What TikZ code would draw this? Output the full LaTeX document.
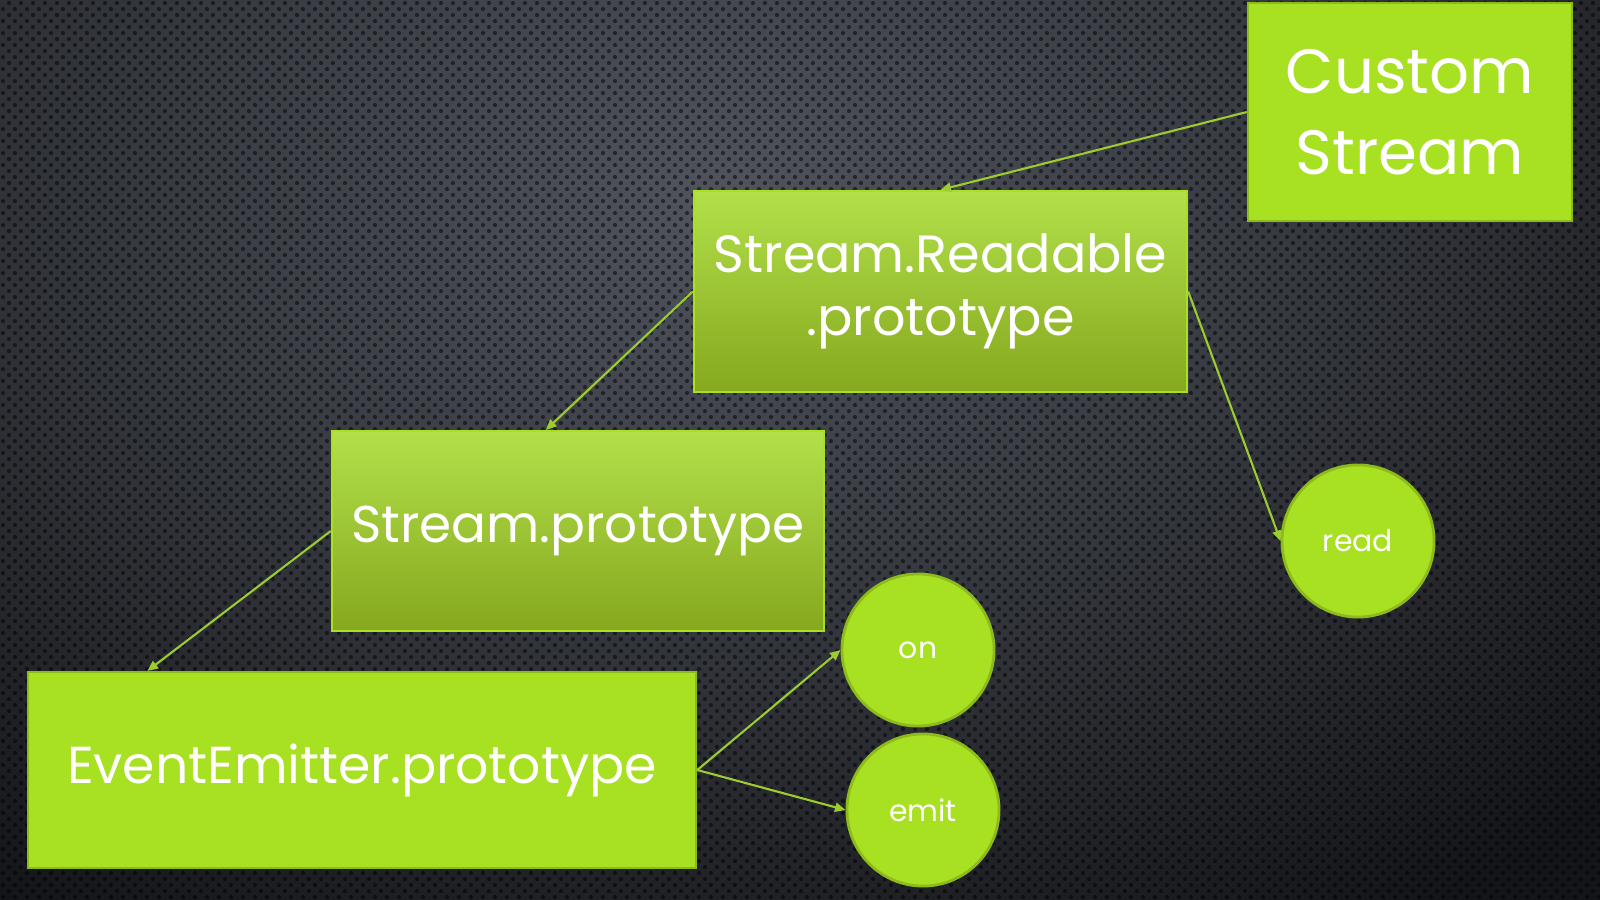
\documentclass[tikz,border=0pt]{standalone}
\usepackage{fontspec}
\setmainfont{Poppins}
\usetikzlibrary{arrows.meta,calc,patterns.meta}

% perforated-metal texture: staggered dark dots
\pgfdeclarepattern{
  name=perforation, type=uncolored,
  bottom left={\pgfpoint{0pt}{0pt}},
  top right={\pgfpoint{3.4pt}{3.4pt}},
  tile size={\pgfpoint{3.4pt}{3.4pt}},
  code={
    \pgfpathcircle{\pgfpoint{0.85pt}{0.85pt}}{0.6pt}
    \pgfpathcircle{\pgfpoint{2.55pt}{2.55pt}}{0.6pt}
    \pgfusepath{fill}
  }
}

\definecolor{bgdark}{HTML}{141518}
\definecolor{bgmid}{HTML}{383B42}
\definecolor{bglight}{HTML}{50545D}
\definecolor{lime}{HTML}{A8E022}
\definecolor{limeedge}{HTML}{8DBB1C}
\definecolor{limetop}{HTML}{B2E04A}
\definecolor{limebot}{HTML}{86A81E}
\definecolor{wire}{HTML}{9DCC2E}

% backdrop glow: lighter near the upper middle, fading to near black
% (the path's bounding box spans -25bp..25bp of the shading)
\pgfdeclareradialshading{backdrop}{\pgfpoint{0bp}{0bp}}{%
  color(0bp)=(bglight); color(11bp)=(bgmid); color(25bp)=(bgdark);
  color(50bp)=(bgdark)}

\tikzset{
  solidbox/.style={rectangle, fill=lime, draw=limeedge, line width=0.6pt,
    text=white, align=center, inner sep=0pt},
  shadedbox/.style={rectangle, top color=limetop, bottom color=limebot,
    draw=lime, line width=0.6pt, text=white, align=center, inner sep=0pt},
  method/.style={circle, fill=lime, draw=limeedge, line width=0.8pt,
    minimum size=1.52cm, inner sep=0pt, text=white,
    font=\fontsize{8.5}{10}\selectfont},
  link/.style={draw=wire, line width=0.6pt,
    -{Triangle[length=3pt,width=2.6pt]}},
}

\begin{document}
\begin{tikzpicture}[x=0.01cm,y=-0.01cm]
  % backdrop
  \useasboundingbox (0,0) rectangle (1600,900);
  \fill[bgdark] (0,0) rectangle (1600,900);
  \begin{scope}
    \clip (0,0) rectangle (1600,900);
    \shade[shading=backdrop]
      (720,200) ellipse [x radius=12.5cm, y radius=8.5cm];
    \fill[pattern=perforation, pattern color=black, opacity=0.5] (0,0) rectangle (1600,900);
  \end{scope}

  % prototype chain
  \node[solidbox, minimum width=3.24cm, minimum height=2.18cm,
        font=\fontsize{17.8}{23}\selectfont] (cs) at (1410,112) {Custom\\Stream};
  \node[shadedbox, minimum width=4.93cm, minimum height=2.01cm,
        font=\fontsize{14.9}{18}\selectfont] (rp) at (940.5,291.5) {Stream.Readable\\.prototype};
  \node[shadedbox, minimum width=4.92cm, minimum height=2.00cm,
        font=\fontsize{14.7}{18}\selectfont] (sp) at (578,531) {Stream.prototype};
  \node[solidbox, minimum width=6.68cm, minimum height=1.96cm,
        font=\fontsize{14.8}{18}\selectfont] (ee) at (362,770) {EventEmitter.prototype};

  % methods
  \node[method] (read) at (1358,541) {read};
  \node[method] (on) at (918,650) {on};
  \node[method] (emit) at (923,810) {emit};

  % connectors
  \draw[link] (cs.west) -- (rp.north);
  \draw[link] (rp.west) -- ($(sp.north west)!0.435!(sp.north east)$);
  \draw[link] (sp.west) -- ($(ee.north west)!0.18!(ee.north east)$);
  \draw[link] (rp.east) -- (read.west);
  \draw[link] (ee.east) -- (on.west);
  \draw[link] (ee.east) -- (emit.west);
\end{tikzpicture}
\end{document}
